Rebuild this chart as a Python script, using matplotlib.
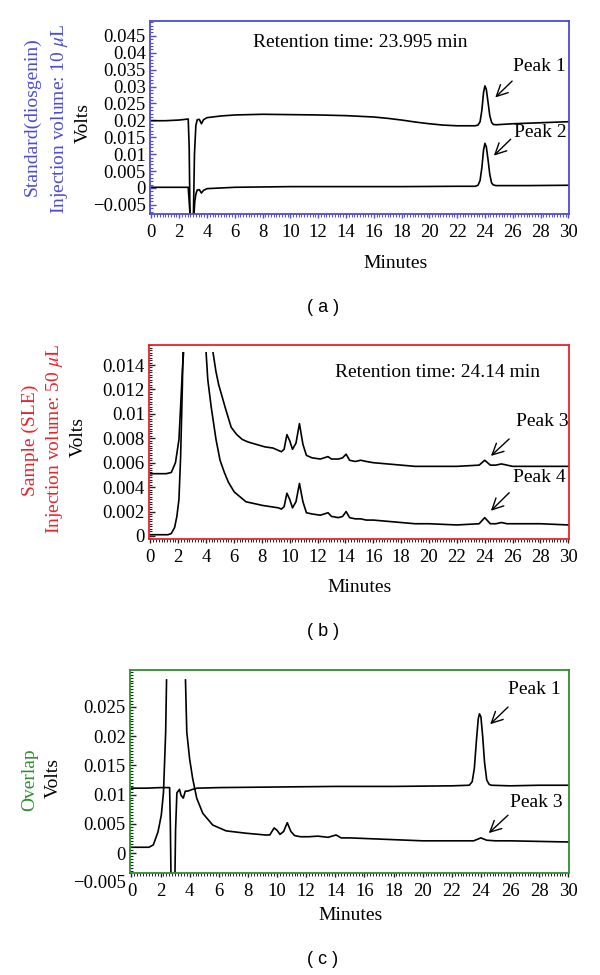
import numpy as np
import matplotlib
matplotlib.use("Agg")
import matplotlib.pyplot as plt
from matplotlib.ticker import MultipleLocator, FixedLocator, FuncFormatter

plt.rcParams['font.family'] = ['Liberation Serif', 'DejaVu Serif']
plt.rcParams['mathtext.fontset'] = 'stix'

# ---- data (minutes, volts); nan = trace off scale ----
std_a_upper = [(0, 0.0199), (1, 0.0199), (2, 0.0201), (2.65, 0.0204), (2.72, 0.012), (2.78, -0.009),
               (3.02, -0.009), (3.1, 0.010), (3.2, 0.0185), (3.3, 0.0202), (3.45, 0.0203), (3.6, 0.0190),
               (3.75, 0.0202), (4, 0.0208), (5, 0.0213), (6, 0.0216), (8, 0.0218), (10, 0.0217),
               (12, 0.0216), (14, 0.0214), (15, 0.0212), (16, 0.0210), (17, 0.0206), (18, 0.0201),
               (19, 0.0195), (20, 0.0190), (21, 0.0186), (22, 0.0184), (23.3, 0.0184), (23.5, 0.0186),
               (23.65, 0.0196), (23.78, 0.0230), (23.9, 0.0282), (24.0, 0.0302), (24.1, 0.0292),
               (24.22, 0.0255), (24.35, 0.0214), (24.48, 0.0194), (24.6, 0.0188), (24.8, 0.0187),
               (26, 0.0190), (28, 0.0193), (30, 0.0196)]
std_a_lower = [(0, 0.0002), (2.65, 0.0002), (2.72, -0.004), (2.8, -0.009), (3.05, -0.009), (3.12, -0.004),
               (3.2, -0.0018), (3.3, -0.0006), (3.45, -0.0005), (3.6, -0.0015), (3.75, -0.0007),
               (4, -0.0002), (5, 0.0), (6, 0.0002), (10, 0.0004), (14, 0.0004), (18, 0.0004),
               (22, 0.0005), (23.3, 0.0005), (23.5, 0.0008), (23.65, 0.0022), (23.78, 0.0060),
               (23.9, 0.0112), (24.0, 0.0132), (24.1, 0.0122), (24.22, 0.0085), (24.35, 0.0040),
               (24.48, 0.0015), (24.6, 0.0009), (24.8, 0.0007), (27, 0.0007), (30, 0.0008)]

sle_b_upper = [(0, 0.0051), (1.14, 0.0051), (1.5, 0.0052), (1.8, 0.0060), (2.05, 0.0079), (2.17, 0.0106),
               (2.29, 0.0134), (2.38, 0.0150), (3.0, np.nan), (4.5, 0.0150), (4.7, 0.0135), (4.9, 0.0124),
               (5.1, 0.0116), (5.4, 0.0104), (5.8, 0.0089), (6.2, 0.0083), (6.6, 0.0079), (7.0, 0.0077),
               (7.6, 0.0075), (8.2, 0.0073), (8.8, 0.0072), (9.4, 0.0069), (9.6, 0.0071), (9.8, 0.0083),
               (10.0, 0.0078), (10.2, 0.0071), (10.45, 0.0076), (10.7, 0.0092), (10.95, 0.0075),
               (11.2, 0.0066), (11.6, 0.0064), (12.2, 0.0063), (12.75, 0.0065), (13.0, 0.0063),
               (13.5, 0.0063), (13.8, 0.0064), (14.05, 0.0067), (14.3, 0.0062), (14.7, 0.0061),
               (15.1, 0.0062), (15.5, 0.0061), (16, 0.0060), (17, 0.0059), (18, 0.0058), (19, 0.0057),
               (20, 0.0057), (22, 0.0057), (23.6, 0.0058), (24.0, 0.0062), (24.4, 0.0058), (24.8, 0.0058),
               (25.2, 0.0059), (25.6, 0.0058), (26, 0.0057), (28, 0.0057), (30, 0.0057)]
sle_b_lower = [(0, 0.0001), (1.26, 0.0001), (1.5, 0.0002), (1.74, 0.0007), (1.9, 0.0016), (2.05, 0.0030),
               (2.17, 0.0065), (2.29, 0.0120), (2.34, 0.0150), (3.0, np.nan), (4.0, 0.0150), (4.12, 0.0128),
               (4.36, 0.0106), (4.71, 0.0079), (5.0, 0.0062), (5.31, 0.0052), (5.6, 0.0044), (6.02, 0.0036),
               (6.86, 0.0028), (8.05, 0.0025), (9.2, 0.0023), (9.4, 0.0022), (9.6, 0.0024), (9.8, 0.0035),
               (10.0, 0.0030), (10.2, 0.0023), (10.45, 0.0028), (10.7, 0.0043), (10.95, 0.0028),
               (11.2, 0.0019), (11.6, 0.0018), (12.2, 0.0017), (12.75, 0.0019), (13.0, 0.0016),
               (13.5, 0.0015), (13.8, 0.0016), (14.05, 0.0020), (14.3, 0.0015), (14.7, 0.0014),
               (15.1, 0.0014), (15.5, 0.0013), (16, 0.0013), (17, 0.0012), (18, 0.0011), (19, 0.0010),
               (20, 0.0010), (22, 0.0009), (23.6, 0.0010), (24.0, 0.0015), (24.4, 0.0010), (24.8, 0.0010),
               (25.2, 0.0011), (25.6, 0.0010), (26, 0.0010), (28, 0.0010), (30, 0.0009)]

std_c = [(0, 0.0111), (1, 0.0111), (2, 0.0112), (2.62, 0.0112), (2.67, 0.005), (2.72, -0.005),
         (2.98, -0.005), (3.03, 0.004), (3.12, 0.0103), (3.3, 0.0109), (3.4, 0.0099), (3.56, 0.0094),
         (3.7, 0.0106), (3.87, 0.0106), (4.2, 0.0109), (4.5, 0.0111), (6, 0.0112), (10, 0.0113),
         (14, 0.0114), (18, 0.0114), (22, 0.0115), (23.2, 0.0116), (23.4, 0.0122), (23.55, 0.0145),
         (23.7, 0.0195), (23.82, 0.0230), (23.9, 0.0238), (24.0, 0.0233), (24.12, 0.0200),
         (24.25, 0.0155), (24.4, 0.0125), (24.55, 0.0118), (24.7, 0.0116), (26, 0.0115),
         (28, 0.0116), (30, 0.0116)]
sle_c = [(0, 0.0010), (1.2, 0.0010), (1.5, 0.0014), (1.82, 0.0036), (2.05, 0.0065), (2.2, 0.0104),
         (2.35, 0.0207), (2.41, 0.0296), (3.0, np.nan), (3.71, 0.0296), (3.8, 0.0207), (3.99, 0.0162),
         (4.2, 0.0128), (4.48, 0.0094), (4.9, 0.0068), (5.58, 0.0048), (6.5, 0.0038), (7.86, 0.0034),
         (9.2, 0.0031), (9.5, 0.0031), (9.8, 0.0043), (10.0, 0.0039), (10.2, 0.0032), (10.45, 0.0037),
         (10.7, 0.0052), (10.95, 0.0037), (11.2, 0.0030), (11.6, 0.0028), (12.2, 0.0028),
         (12.8, 0.0029), (13.5, 0.0027), (14.05, 0.0031), (14.4, 0.0026), (15, 0.0026), (16, 0.0025),
         (18, 0.0023), (20, 0.0021), (22, 0.0021), (23.5, 0.0021), (24.0, 0.0026), (24.4, 0.0022),
         (25, 0.0021), (26, 0.0021), (28, 0.0020), (30, 0.0019)]

yticks_a = [-0.005, 0, 0.005, 0.01, 0.015, 0.02, 0.025, 0.03, 0.035, 0.04, 0.045]
yticks_b = [0, 0.002, 0.004, 0.006, 0.008, 0.01, 0.012, 0.014]
yticks_c = [0, 0.005, 0.01, 0.015, 0.02, 0.025]

BLUE = '#4b4bd6'
RED = '#e8242a'
GREEN = '#2f8f2f'

fig = plt.figure(figsize=(6, 9.75), dpi=100)


def fx(px):
    return px / 600.0


def fy(py):
    return 1 - py / 975.0


def fmt(v, pos):
    s = '%g' % round(v, 6)
    return s.replace('-', '\u2212')


def style(ax, color, tickcol, ylim, yticks, yminor):
    ax.set_xlim(-0.1, 30.05)
    ax.set_ylim(*ylim)
    for s in ax.spines.values():
        s.set_color(color)
        s.set_linewidth(1.3)
    ax.xaxis.set_major_locator(MultipleLocator(2))
    ax.xaxis.set_minor_locator(MultipleLocator(0.2))
    ax.yaxis.set_major_locator(FixedLocator(yticks))
    ax.yaxis.set_minor_locator(MultipleLocator(yminor))
    ax.yaxis.set_major_formatter(FuncFormatter(fmt))
    ax.tick_params(axis='y', which='major', direction='in', length=4, width=1.0,
                   color=tickcol, labelsize=13.5, pad=3)
    ax.tick_params(axis='y', which='minor', direction='in', length=2.5, width=0.8, color=tickcol)
    ax.tick_params(axis='x', which='major', direction='out', length=3, width=1.0,
                   color=tickcol, labelsize=13.5, pad=4)
    ax.tick_params(axis='x', which='minor', direction='out', length=2, width=0.7, color=tickcol)


def trace(ax, pts):
    x = [p[0] for p in pts]
    y = [p[1] for p in pts]
    ax.plot(x, y, color='black', lw=1.2)


def arrow(ax, tail, tip):
    ax.annotate('', xy=tip, xytext=tail,
                arrowprops=dict(arrowstyle='->,head_length=0.8,head_width=0.4', lw=1.0, color='black'))


# ---- (a) standard ----
ax_a = fig.add_axes([fx(150), fy(214), 419 / 600, 193 / 975])
style(ax_a, BLUE, BLUE, (-0.0077, 0.0494), yticks_a, 0.001)
trace(ax_a, std_a_upper)
trace(ax_a, std_a_lower)
ax_a.text(15.0, 0.0429, 'Retention time: 23.995 min', ha='center', va='center', fontsize=14)
ax_a.text(27.9, 0.0358, 'Peak 1', ha='center', va='center', fontsize=14)
arrow(ax_a, (26.1, 0.0322), (24.6, 0.0262))
ax_a.text(28.0, 0.0163, 'Peak 2', ha='center', va='center', fontsize=14)
arrow(ax_a, (26.0, 0.0150), (24.5, 0.0090))
fig.text(fx(32), fy(117), 'Standard(diosgenin)', rotation=90, ha='center', va='center',
         fontsize=14, color=BLUE)
fig.text(fx(59), fy(119), 'Injection volume: 10 $\\mu$L', rotation=90, ha='center', va='center',
         fontsize=14, color=BLUE)
fig.text(fx(83), fy(123), 'Volts', rotation=90, ha='center', va='center', fontsize=14)
fig.text(fx(396), fy(263), 'Minutes', ha='center', va='center', fontsize=14)
fig.text(fx(323), fy(307), '( a )', ha='center', va='center', fontsize=13, family='Liberation Sans')

# ---- (b) sample ----
ax_b = fig.add_axes([fx(149), fy(539), 420 / 600, 194 / 975])
style(ax_b, RED, '#222222', (-0.00025, 0.01564), yticks_b, 0.0002)
trace(ax_b, sle_b_upper)
trace(ax_b, sle_b_lower)
ax_b.text(20.6, 0.0134, 'Retention time: 24.14 min', ha='center', va='center', fontsize=14)
ax_b.text(28.1, 0.0094, 'Peak 3', ha='center', va='center', fontsize=14)
arrow(ax_b, (25.9, 0.0081), (24.3, 0.0064))
ax_b.text(27.9, 0.0048, 'Peak 4', ha='center', va='center', fontsize=14)
arrow(ax_b, (25.9, 0.0037), (24.3, 0.0019))
fig.text(fx(30), fy(440), 'Sample (SLE)', rotation=90, ha='center', va='center',
         fontsize=14, color=RED)
fig.text(fx(55), fy(439), 'Injection volume: 50 $\\mu$L', rotation=90, ha='center', va='center',
         fontsize=14, color=RED)
fig.text(fx(78), fy(437), 'Volts', rotation=90, ha='center', va='center', fontsize=14)
fig.text(fx(360), fy(588), 'Minutes', ha='center', va='center', fontsize=14)
fig.text(fx(323), fy(632), '( b )', ha='center', va='center', fontsize=13, family='Liberation Sans')

# ---- (c) overlap ----
ax_c = fig.add_axes([fx(130), fy(873), 439 / 600, 203 / 975])
style(ax_c, GREEN, '#222222', (-0.0034, 0.0313), yticks_c, 0.0005)
trace(ax_c, std_c)
trace(ax_c, sle_c)
ax_c.text(27.7, 0.0279, 'Peak 1', ha='center', va='center', fontsize=14)
arrow(ax_c, (26.0, 0.0253), (24.5, 0.0217))
ax_c.text(27.8, 0.0086, 'Peak 3', ha='center', va='center', fontsize=14)
arrow(ax_c, (26.0, 0.0068), (24.4, 0.0031))
fig.text(fx(126), fy(883), fmt(-0.005, None), ha='right', va='center', fontsize=13.5)
fig.text(fx(30), fy(780), 'Overlap', rotation=90, ha='center', va='center', fontsize=14, color=GREEN)
fig.text(fx(53), fy(778), 'Volts', rotation=90, ha='center', va='center', fontsize=14)
fig.text(fx(351), fy(915), 'Minutes', ha='center', va='center', fontsize=14)
fig.text(fx(323), fy(960), '( c )', ha='center', va='center', fontsize=13, family='Liberation Sans')

fig.savefig('out.png', dpi=100)
